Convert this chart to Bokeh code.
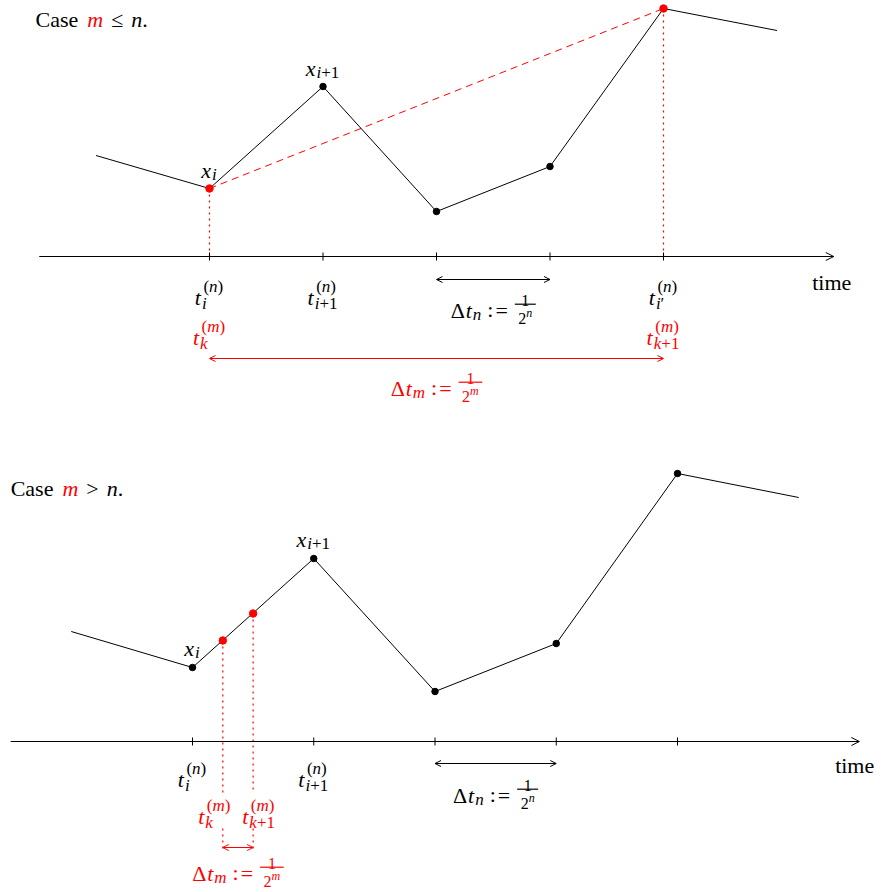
from bokeh.plotting import figure
from bokeh.layouts import column
from bokeh.models import Range1d, Arrow, OpenHead
from bokeh.core.properties import value
from bokeh.embed import file_html
from bokeh.resources import INLINE

# ---------------- data ----------------
# top panel: case m <= n  (time in grid steps of 1/2^n, path value above the time axis)
top_path_t = [-1, 0, 1, 2, 3, 4, 5]
top_path_x = [101, 68, 170, 45, 90, 248, 226]
top_black_t = [1, 2, 3]
top_black_x = [170, 45, 90]
top_red_t = [0, 4]
top_red_x = [68, 248]
top_ticks = [0, 1, 2, 3, 4]
top_tick_t = [0, 1, 4]
top_tick_sub = ["i", "i+1", "i\u2032"]
top_tick_sup = ["(n)", "(n)", "(n)"]
top_mtick_t = [0, 4]
top_mtick_sub = ["k", "k+1"]
top_mtick_sup = ["(m)", "(m)"]
top_xlab_t = [0, 1]
top_xlab_x = [68, 170]
top_xlab_sub = ["i", "i+1"]
top_dn_span = [2, 3]
top_dm_span = [0, 4]

# bottom panel: case m > n
bot_path_t = [-1, 0, 1, 2, 3, 4, 5]
bot_path_x = [110, 74, 183, 50, 98, 268, 244]
bot_black_t = [0, 1, 2, 3, 4]
bot_black_x = [74, 183, 50, 98, 268]
bot_red_t = [0.25, 0.5]
bot_red_x = [101, 128]
bot_ticks = [0, 1, 2, 3, 4]
bot_tick_t = [0, 1]
bot_tick_sub = ["i", "i+1"]
bot_tick_sup = ["(n)", "(n)"]
bot_mtick_t = [0.25, 0.5]
bot_mtick_sub = ["k", "k+1"]
bot_mtick_sup = ["(m)", "(m)"]
bot_xlab_t = [0, 1]
bot_xlab_x = [74, 183]
bot_xlab_sub = ["i", "i+1"]
bot_dn_span = [2, 3]
bot_dm_span = [0.25, 0.5]

axis_span = [-1.5, 5.5]

# ---------------- style ----------------
FONT = "Liberation Serif"
RED = "#ff0000"
B, S, FS, SS = 22, 17, 16, 12
DOT = "2 4"

REG = {'C': .667, 'a': .444, 's': .389, 'e': .444, ' ': .25, '.': .25, 't': .278,
       'i': .278, 'm': .778, '1': .5, '2': .5, '(': .333, ')': .333, '+': .564,
       '=': .564, ':': .278, '\u2264': .549, '>': .564, '\u0394': .612, '\u2032': .275}
ITA = {'m': .722, 'n': .5, 't': .278, 'x': .444, 'i': .278, 'k': .444}


def width(s, st, size):
    tbl = ITA if st == "italic" else REG
    return sum(tbl.get(c, REG.get(c, .5)) for c in s) * size


def runs(s):
    out = []
    for ch in s:
        st = "italic" if (ch.isalpha() and ch != "\u0394") else "normal"
        if out and out[-1][1] == st:
            out[-1][0] += ch
        else:
            out.append([ch, st])
    return out


def build(items):
    pieces, bars, x = [], [], 0.0
    for it in items:
        kind = it[0]
        if kind == "txt":
            s, st, col, size = it[1], it[2], it[3], it[4]
            dy = it[5] if len(it) > 5 else 0
            pieces.append((s, x, dy, size, st, col))
            x += width(s, st, size)
        elif kind == "scr":
            sub, sup, col = it[1], it[2], it[3]
            dsub = 6 if sup else 4
            x += 1
            ends = [x]
            if sub:
                xx = x
                for s, st in runs(sub):
                    pieces.append((s, xx, dsub, S, st, col))
                    xx += width(s, st, S)
                ends.append(xx)
            if sup:
                xx = x + 1.5
                for s, st in runs(sup):
                    pieces.append((s, xx, -11, S, st, col))
                    xx += width(s, st, S)
                ends.append(xx)
            x = max(ends) + 1
        elif kind == "frac":
            num, den, dsup, col = it[1], it[2], it[3], it[4]
            wn = width(num, "normal", FS)
            wd = width(den, "normal", FS) + width(dsup, "italic", SS)
            wf = max(wn, wd) + 7
            pieces.append((num, x + (wf - wn) / 2, -10.5, FS, "normal", col))
            xd = x + (wf - wd) / 2
            pieces.append((den, xd, 8, FS, "normal", col))
            pieces.append((dsup, xd + width(den, "normal", FS), 2, SS, "italic", col))
            bars.append((x, x + wf, -6.3, col))
            x += wf
        elif kind == "gap":
            x += it[1]
    return pieces, bars, x


def draw(p, sx, t, v, items, align="center", dx=0.0):
    pieces, bars, w = build(items)
    off = dx - {"left": 0, "center": w / 2, "right": w}[align]
    for s, x, y, size, st, col in pieces:
        p.text(x=[t], y=[v], text=[s], x_offset=x + off, y_offset=y,
               text_font=value(FONT), text_font_size=f"{size}px",
               text_font_style=st, text_color=col,
               text_align="left", text_baseline="alphabetic")
    for x0, x1, y, col in bars:
        p.segment(x0=[t + (x0 + off) / sx], x1=[t + (x1 + off) / sx],
                  y0=[v - y], y1=[v - y], line_color=col, line_width=1.2)


def tlabel(sub, sup, col):
    return [("txt", "t", "italic", col, B), ("scr", sub, sup, col)]


def xlabel(sub, col):
    return [("txt", "x", "italic", col, B), ("scr", sub, None, col)]


def dlabel(letter, col):
    return [("txt", "\u0394", "normal", col, B), ("gap", 1.5),
            ("txt", "t", "italic", col, B), ("scr", letter, None, col), ("gap", 5),
            ("txt", ":", "normal", col, B, -1.5), ("gap", 2),
            ("txt", "=", "normal", col, B), ("gap", 7),
            ("frac", "1", "2", letter, col)]


def case_label(rel):
    return [("txt", "Case", "normal", "black", B), ("gap", 9),
            ("txt", "m", "italic", RED, B), ("gap", 8),
            ("txt", rel, "normal", "black", B), ("gap", 8),
            ("txt", "n", "italic", "black", B),
            ("txt", ".", "normal", "black", B)]


def make_fig(w, h, xr, yr):
    return figure(width=w, height=h, x_range=Range1d(*xr), y_range=Range1d(*yr),
                  x_axis_type=None, y_axis_type=None, toolbar_location=None,
                  output_backend="svg", min_border=0, outline_line_color=None)


def time_axis(p, ticks):
    p.add_layout(Arrow(start=None,
                       end=OpenHead(size=8, line_width=1, line_color="black"),
                       x_start=axis_span[0], y_start=0, x_end=axis_span[1], y_end=0,
                       line_width=1, line_color="black"))
    p.segment(x0=ticks, x1=ticks, y0=[-4] * len(ticks), y1=[4] * len(ticks),
              line_color="black", line_width=1)


def span_arrow(p, span, v, col):
    p.add_layout(Arrow(start=OpenHead(size=6, line_width=1, line_color=col),
                       end=OpenHead(size=6, line_width=1, line_color=col),
                       x_start=span[0], y_start=v, x_end=span[1], y_end=v,
                       line_width=1, line_color=col))


W, HT, HB = 875, 432, 460

# ---------------- top panel ----------------
SXT = 113.5
x0t = -209 / SXT
top = make_fig(W, HT, (x0t, x0t + W / SXT), (256 - HT, 256))

top.segment(x0=top_red_t, x1=top_red_t, y0=top_red_x, y1=[0] * len(top_red_t),
            line_color=RED, line_dash=DOT, line_width=1.2)
top.line(top_red_t, top_red_x, line_color=RED, line_dash="7 5", line_width=1)
top.line(top_path_t, top_path_x, line_color="black", line_width=1)
time_axis(top, top_ticks)
top.scatter(top_black_t, top_black_x, size=6.5, color="black")
top.scatter(top_red_t, top_red_x, size=7.5, color=RED)

draw(top, SXT, -174 / SXT, 237, case_label("\u2264"), align="left")
for t, xv, sub in zip(top_xlab_t, top_xlab_x, top_xlab_sub):
    draw(top, SXT, t, xv + 18, xlabel(sub, "black"))
for t, sub, sup in zip(top_tick_t, top_tick_sub, top_tick_sup):
    draw(top, SXT, t, -41, tlabel(sub, sup, "black"))
for t, sub, sup in zip(top_mtick_t, top_mtick_sub, top_mtick_sup):
    draw(top, SXT, t, -81, tlabel(sub, sup, RED))
span_arrow(top, top_dn_span, -23, "black")
draw(top, SXT, sum(top_dn_span) / 2, -54, dlabel("n", "black"))
span_arrow(top, top_dm_span, -102, RED)
draw(top, SXT, sum(top_dm_span) / 2, -132, dlabel("m", RED))
draw(top, SXT, 5.31, -26, [("txt", "time", "normal", "black", B)], align="left")

# ---------------- bottom panel ----------------
SXB = 121.25
x0b = -192 / SXB
vtop_b = 741 - HT
bot = make_fig(W, HB, (x0b, x0b + W / SXB), (vtop_b - HB, vtop_b))

bot.segment(x0=bot_red_t, x1=bot_red_t, y0=bot_red_x, y1=[-51] * len(bot_red_t),
            line_color=RED, line_dash=DOT, line_width=1.2)
bot.segment(x0=bot_red_t, x1=bot_red_t, y0=[-87] * len(bot_red_t), y1=[-111] * len(bot_red_t),
            line_color=RED, line_dash=DOT, line_width=1.2)
bot.line(bot_path_t, bot_path_x, line_color="black", line_width=1)
time_axis(bot, bot_ticks)
bot.scatter(bot_black_t, bot_black_x, size=6.5, color="black")
bot.scatter(bot_red_t, bot_red_x, size=7.5, color=RED)

draw(bot, SXB, axis_span[0], 253, case_label(">"), align="left")
for t, xv, sub in zip(bot_xlab_t, bot_xlab_x, bot_xlab_sub):
    draw(bot, SXB, t, xv + 19, xlabel(sub, "black"))
for t, sub, sup in zip(bot_tick_t, bot_tick_sub, bot_tick_sup):
    draw(bot, SXB, t, -38, tlabel(sub, sup, "black"))
for t, sub, sup, dx in zip(bot_mtick_t, bot_mtick_sub, bot_mtick_sup, [-8, 6]):
    draw(bot, SXB, t, -75, tlabel(sub, sup, RED), dx=dx)
span_arrow(bot, bot_dn_span, -22, "black")
draw(bot, SXB, sum(bot_dn_span) / 2, -54, dlabel("n", "black"))
span_arrow(bot, bot_dm_span, -106, RED)
draw(bot, SXB, sum(bot_dm_span) / 2, -132, dlabel("m", RED))
draw(bot, SXB, 5.30, -24, [("txt", "time", "normal", "black", B)], align="left")

layout = column(top, bot, spacing=0)
open("out.html", "w").write(file_html(layout, INLINE))
